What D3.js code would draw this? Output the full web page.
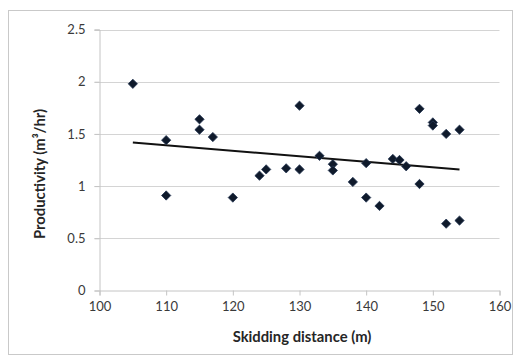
<!DOCTYPE html>
<html>
<head>
<meta charset="utf-8">
<script src="https://cdn.jsdelivr.net/npm/d3@7"></script>
<style>
    body { margin: 0; background: #fff; }
    svg { display: block; font-family: Lato, "Open Sans", sans-serif; }
</style>
</head>
<body>
<div class="container"></div>
<script>
// skidding distance (m) and productivity (m3/hr)
let distance = [105, 110, 110, 115, 115, 117, 120, 124, 125, 128, 130, 130, 133, 135, 135,
    138, 140, 140, 142, 144, 145, 146, 148, 148, 150, 150, 152, 152, 154, 154];
let productivity = [1.98, 1.44, 0.91, 1.64, 1.54, 1.47, 0.89, 1.10, 1.16, 1.17, 1.77, 1.16, 1.29, 1.21, 1.15,
    1.04, 1.22, 0.89, 0.81, 1.26, 1.25, 1.19, 1.74, 1.02, 1.61, 1.58, 1.50, 0.64, 1.54, 0.67];
let xTicks = [100, 110, 120, 130, 140, 150, 160];
let yTicks = [0, 0.5, 1, 1.5, 2, 2.5];

let data = distance.map((d, i) => ({ x: d, y: productivity[i] }));

let width = 532,
    height = 356;

let svg = d3.select(".container")
    .append("svg")
    .attr("width", width)
    .attr("height", height);

// chart area border
svg.append("rect")
    .attr("x", 8.5)
    .attr("y", 10.5)
    .attr("width", 504)
    .attr("height", 344)
    .attr("fill", "#fff")
    .attr("stroke", "#c9c9c9");

let x = d3.scaleLinear()
    .domain([100, 160])
    .range([99.5, 499.5]);

let y = d3.scaleLinear()
    .domain([0, 2.5])
    .range([290.5, 29.5]);

// gridlines
svg.append("g")
    .selectAll("line")
    .data(yTicks.filter(d => d > 0))
    .enter()
    .append("line")
    .attr("x1", x(100) - 5)
    .attr("x2", x(160))
    .attr("y1", d => Math.round(y(d)) + 0.5)
    .attr("y2", d => Math.round(y(d)) + 0.5)
    .attr("stroke", "#d4d4d4");

// x axis
let xAxis = svg.append("g")
    .attr("transform", "translate(0," + y(0) + ")")
    .call(d3.axisBottom(x).tickValues(xTicks).tickSize(5).tickPadding(6).tickFormat(d3.format("d")));

// y axis
let yAxis = svg.append("g")
    .attr("transform", "translate(" + x(100) + ",0)")
    .call(d3.axisLeft(y).tickValues(yTicks).tickSize(5).tickPadding(9).tickFormat(d => d));

[xAxis, yAxis].forEach(a => {
    a.select(".domain").attr("stroke", "#c4c4c4");
    a.selectAll(".tick line").attr("stroke", "#c4c4c4");
    a.selectAll(".tick text")
        .attr("fill", "#3a3a3a")
        .style("font-size", "13px")
        .style("font-family", "Lato, sans-serif");
});

// trend line (least squares)
let mx = d3.mean(data, d => d.x),
    my = d3.mean(data, d => d.y);
let slope = d3.sum(data, d => (d.x - mx) * (d.y - my)) / d3.sum(data, d => (d.x - mx) * (d.x - mx));
let icpt = my - slope * mx;
let xr = d3.extent(distance);

svg.append("line")
    .attr("x1", x(xr[0]))
    .attr("x2", x(xr[1]))
    .attr("y1", y(icpt + slope * xr[0]))
    .attr("y2", y(icpt + slope * xr[1]))
    .attr("stroke", "#111")
    .attr("stroke-width", 2);

// points
svg.append("g")
    .selectAll("path")
    .data(data)
    .enter()
    .append("path")
    .attr("d", d3.symbol().type(d3.symbolDiamond2).size(55))
    .attr("transform", d => "translate(" + x(d.x) + "," + y(d.y) + ")")
    .attr("fill", "#0f1a2b")
    .attr("stroke", "#243653")
    .attr("stroke-width", 0.8);

// axis titles
svg.append("text")
    .attr("x", 302)
    .attr("y", 342)
    .attr("text-anchor", "middle")
    .style("font-size", "14.8px")
    .style("font-weight", "bold")
    .attr("fill", "#262626")
    .text("Skidding distance (m)");

svg.append("text")
    .attr("transform", "translate(45,174) rotate(-90)")
    .attr("text-anchor", "middle")
    .style("font-size", "14.8px")
    .style("font-weight", "bold")
    .attr("fill", "#262626")
    .text("Productivity (m³/hr)");
</script>
</body>
</html>
